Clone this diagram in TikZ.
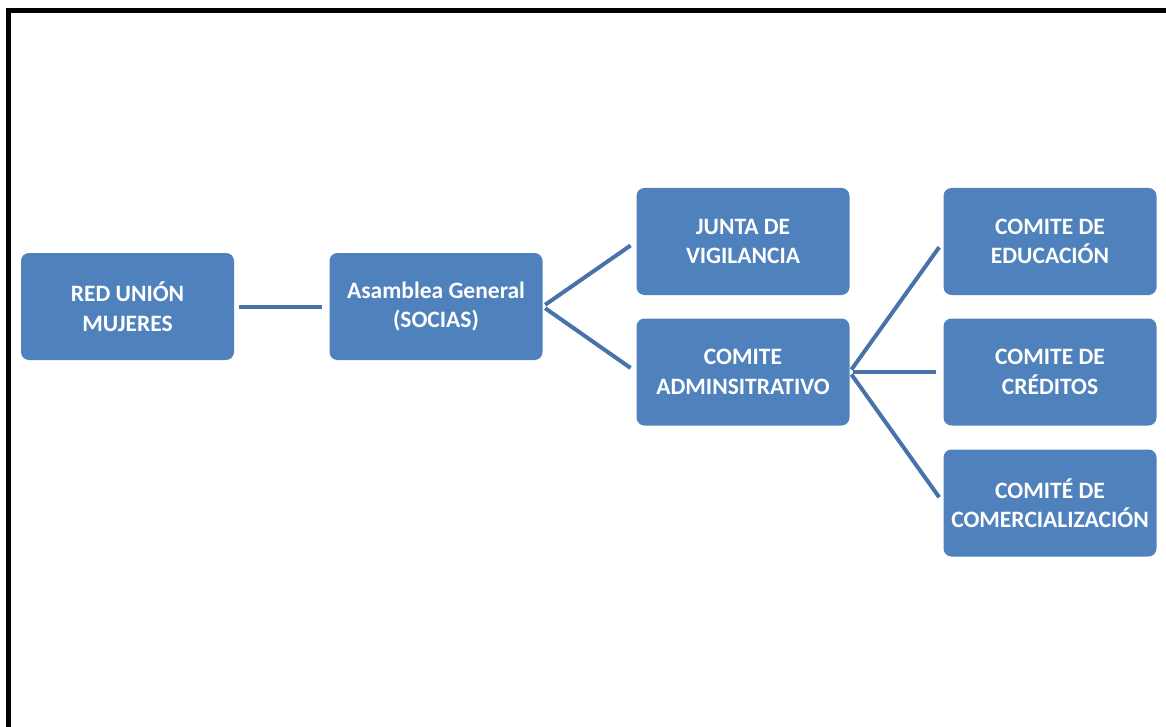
\documentclass[tikz,border=0pt]{standalone}
\usepackage{fontspec}
\setmainfont{Carlito}
\usetikzlibrary{calc}
\definecolor{boxblue}{RGB}{79,129,189}
\definecolor{linkblue}{RGB}{72,115,170}
\begin{document}
\begin{tikzpicture}[x=1pt,y=-1pt,
  orgbox/.style={draw=none,fill=boxblue,rounded corners=8pt,minimum width=213pt,minimum height=107pt,
    inner sep=0pt,align=center,text=white,font=\bfseries\fontsize{23.5}{29.5}\selectfont},
  conn/.style={draw=linkblue,line width=4pt}]
\useasboundingbox (0,0) rectangle (1166,727);
\draw[line width=5pt,black] (8.5,740) -- (8.5,11) -- (1180,11);
\node[orgbox] (red) at (127.5,306.5) {RED UNIÓN\\MUJERES};
\node[orgbox] (asam) at (436,306.5) {Asamblea General\\(SOCIAS)};
\node[orgbox] (junta) at (743,241.5) {JUNTA DE\\VIGILANCIA};
\node[orgbox] (admin) at (743,372) {COMITE\\ADMINSITRATIVO};
\node[orgbox] (educ) at (1050,241.5) {COMITE DE\\EDUCACIÓN};
\node[orgbox] (cred) at (1050,372) {COMITE DE\\CRÉDITOS};
\node[orgbox] (comer) at (1050,503) {COMITÉ DE\\COMERCIALIZACIÓN};
\draw[conn,shorten <=5pt,shorten >=7pt] (red.east) -- (asam.west);
\draw[conn,shorten <=3pt,shorten >=7pt] (asam.east) -- (junta.west);
\draw[conn,shorten <=3pt,shorten >=7pt] (asam.east) -- (admin.west);
\draw[conn,shorten <=3pt,shorten >=7pt] (admin.east) -- (educ.west);
\draw[conn,shorten <=3pt,shorten >=7pt] (admin.east) -- (cred.west);
\draw[conn,shorten <=3pt,shorten >=7pt] (admin.east) -- (comer.west);
\end{tikzpicture}
\end{document}
